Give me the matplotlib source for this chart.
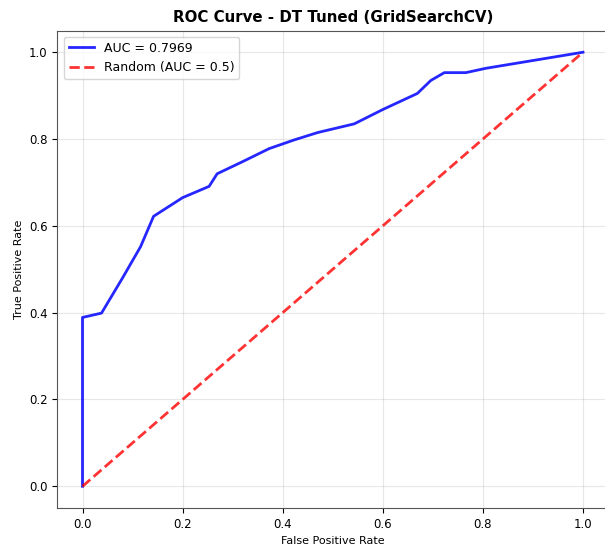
import matplotlib
matplotlib.use("Agg")
import matplotlib.pyplot as plt

fpr = [0.0, 0.0, 0.038, 0.08, 0.116, 0.142, 0.20, 0.253, 0.269, 0.32, 0.373, 0.423, 0.47, 0.543,
       0.60, 0.669, 0.696, 0.723, 0.766, 0.806, 1.0]
tpr = [0.0, 0.389, 0.399, 0.48, 0.552, 0.622, 0.665, 0.691, 0.720, 0.748, 0.778, 0.798, 0.815, 0.835,
       0.868, 0.905, 0.935, 0.953, 0.953, 0.963, 1.0]
auc_label = "AUC = 0.7969"
rand_x = [0, 1]
rand_y = [0, 1]

fig = plt.figure(figsize=(6.05, 5.52), dpi=100)
ax = fig.add_axes([0.095, 0.0797, 0.91, 0.865])
ax.plot(fpr, tpr, color="blue", lw=2, alpha=0.85, label=auc_label)
ax.plot(rand_x, rand_y, "r--", lw=2, alpha=0.8, label="Random (AUC = 0.5)")
ax.set_xlim(-0.05, 1.05)
ax.set_ylim(-0.05, 1.05)
ax.set_xlabel("False Positive Rate", fontsize=8)
ax.set_ylabel("True Positive Rate", fontsize=8)
ax.set_title("ROC Curve - DT Tuned (GridSearchCV)", fontsize=10.8, fontweight="bold")
ax.tick_params(labelsize=8.5)
ax.grid(True, alpha=0.3)
ax.legend(loc="upper left", fontsize=9)
for s in ax.spines.values():
    s.set_color("#555555")
fig.savefig("out.png", dpi=100)
